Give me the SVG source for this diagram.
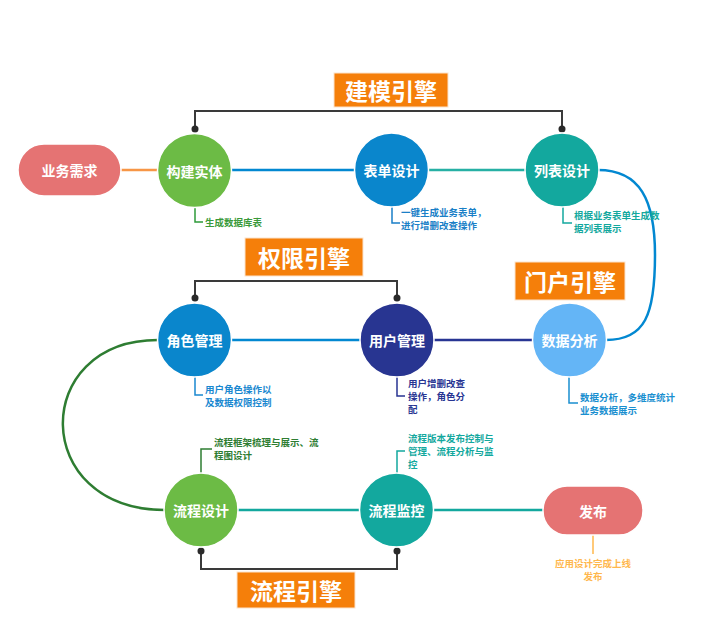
<svg xmlns="http://www.w3.org/2000/svg" width="720" height="627" viewBox="0 0 720 627">
<style>
.nt{font-family:"Noto Sans CJK SC","Noto Sans",sans-serif;font-weight:bold;font-size:14px;fill:#fff;text-anchor:middle;dominant-baseline:central}
.et{font-family:"Noto Sans CJK SC","Noto Sans",sans-serif;font-weight:bold;font-size:23px;fill:#fff;text-anchor:middle;dominant-baseline:central}
.st{font-family:"Noto Sans CJK SC","Noto Sans",sans-serif;font-weight:bold;font-size:9.5px}
.eb{fill:#f57f0a;stroke:#fbe3cc;stroke-width:1}
.cn{fill:none;stroke-width:2.5}
.br{fill:none;stroke:#3a3a3a;stroke-width:2}
.sl{fill:none;stroke-width:1.5}
.nd{stroke:#fff;stroke-width:1.5}
</style>
<rect width="720" height="627" fill="#fff"/>
<g id="connectors">
<line class="cn" x1="121" y1="170" x2="158" y2="170" stroke="#f79646"/>
<line class="cn" x1="231" y1="170" x2="355" y2="170" stroke="#0288d1"/>
<line class="cn" x1="428" y1="170" x2="526" y2="170" stroke="#26b0a4"/>
<path class="cn" d="M598,170 C640,170 655,200 655,255 C655,315 645,340 606,340" stroke="#0288d1"/>
<line class="cn" x1="231" y1="340" x2="361" y2="340" stroke="#0288d1"/>
<line class="cn" x1="433" y1="340" x2="533" y2="340" stroke="#283593"/>
<path class="cn" d="M158,340 C30,340 30,510 165,510" stroke="#2e7d32"/>
<line class="cn" x1="237" y1="510" x2="360" y2="510" stroke="#13a89e"/>
<line class="cn" x1="433" y1="510" x2="543" y2="510" stroke="#13a89e"/>
<path class="br" d="M195,129 V111 H562 V129"/>
<circle cx="195" cy="129" r="3.5" fill="#2a2a2a"/>
<circle cx="562" cy="129" r="3.5" fill="#2a2a2a"/>
<path class="br" d="M195,298 V281 H397 V298"/>
<circle cx="195" cy="298" r="3.5" fill="#2a2a2a"/>
<circle cx="397" cy="298" r="3.5" fill="#2a2a2a"/>
<path class="br" d="M201,551 V569 H397 V551"/>
<circle cx="201" cy="551" r="3.5" fill="#2a2a2a"/>
<circle cx="397" cy="551" r="3.5" fill="#2a2a2a"/>
<path class="sl" d="M195,207 V222 H203" stroke="#2e9a3a"/>
<path class="sl" d="M392,206 V223 H400" stroke="#1a7fc7"/>
<path class="sl" d="M563,206 V223 H572" stroke="#13a89e"/>
<path class="sl" d="M195,377 V395 H203" stroke="#1a88d0"/>
<path class="sl" d="M397,376 V396 H405" stroke="#283593"/>
<path class="sl" d="M569,377 V403 H578" stroke="#1a8fd0"/>
<path class="sl" d="M201,473 V449 H212" stroke="#2e7d32"/>
<path class="sl" d="M397,473 V451 H405" stroke="#13a89e"/>
<line class="sl" x1="593" y1="535" x2="593" y2="554" stroke="#ffb74d"/>
</g>
<g id="engine-modeling"><rect class="eb" x="334" y="73" width="114" height="34"/><text class="et" x="391" y="90">建模引擎</text></g>
<g id="engine-permission"><rect class="eb" x="245" y="238" width="118" height="38"/><text class="et" x="304" y="257">权限引擎</text></g>
<g id="engine-portal"><rect class="eb" x="515" y="262" width="110" height="38"/><text class="et" x="570" y="281">门户引擎</text></g>
<g id="engine-flow"><rect class="eb" x="237" y="572" width="118" height="36"/><text class="et" x="296" y="590">流程引擎</text></g>
<g id="n-req"><rect x="18" y="144" width="103" height="52" rx="26" fill="#e57373" class="nd"/><text class="nt" x="69.5" y="170">业务需求</text></g>
<g id="n-entity"><circle cx="194.5" cy="170.5" r="37" fill="#6cbb45" class="nd"/><text class="nt" x="194.5" y="170.5">构建实体</text>
<text class="st" x="205" y="226" fill="#3a9a3a">生成数据库表</text></g>
<g id="n-form"><circle cx="391.5" cy="170" r="37" fill="#0a86cc" class="nd"/><text class="nt" x="391.5" y="170">表单设计</text>
<text class="st" x="401" y="216" fill="#1a7fc7">一键生成业务表单，</text><text class="st" x="401" y="229" fill="#1a7fc7">进行增删改查操作</text></g>
<g id="n-list"><circle cx="562" cy="170" r="37" fill="#13a89e" class="nd"/><text class="nt" x="562" y="170">列表设计</text>
<text class="st" x="574" y="219" fill="#13a89e">根据业务表单生成数</text><text class="st" x="574" y="232" fill="#13a89e">据列表展示</text></g>
<g id="n-role"><circle cx="194.5" cy="340" r="37" fill="#0a86cc" class="nd"/><text class="nt" x="194.5" y="340">角色管理</text>
<text class="st" x="205" y="393" fill="#1a88d0">用户角色操作以</text><text class="st" x="205" y="406" fill="#1a88d0">及数据权限控制</text></g>
<g id="n-user"><circle cx="397" cy="340" r="37" fill="#283591" class="nd"/><text class="nt" x="397" y="340">用户管理</text>
<text class="st" x="408" y="387" fill="#283593">用户增删改查</text><text class="st" x="408" y="400" fill="#283593">操作，角色分</text><text class="st" x="408" y="413" fill="#283593">配</text></g>
<g id="n-data"><circle cx="569.5" cy="340" r="37" fill="#64b5f6" class="nd"/><text class="nt" x="569.5" y="340">数据分析</text>
<text class="st" x="580" y="401" fill="#1a8fd0">数据分析，多维度统计</text><text class="st" x="580" y="414" fill="#1a8fd0">业务数据展示</text></g>
<g id="n-flowdesign"><circle cx="201" cy="510" r="37" fill="#6cbb45" class="nd"/><text class="nt" x="201" y="510">流程设计</text>
<text class="st" x="214" y="446" fill="#2e7d32">流程框架梳理与展示、流</text><text class="st" x="214" y="459" fill="#2e7d32">程图设计</text></g>
<g id="n-flowmon"><circle cx="396.5" cy="510" r="37" fill="#13a89e" class="nd"/><text class="nt" x="396.5" y="510">流程监控</text>
<text class="st" x="408" y="442" fill="#13a89e">流程版本发布控制与</text><text class="st" x="408" y="455" fill="#13a89e">管理、流程分析与监</text><text class="st" x="408" y="468" fill="#13a89e">控</text></g>
<g id="n-publish"><rect x="543" y="486" width="100" height="49" rx="24" fill="#e57373" class="nd"/><text class="nt" x="593" y="510.5">发布</text>
<text class="st" x="593" y="567" fill="#ffb74d" text-anchor="middle">应用设计完成上线</text><text class="st" x="593" y="580" fill="#ffb74d" text-anchor="middle">发布</text></g>
</svg>
